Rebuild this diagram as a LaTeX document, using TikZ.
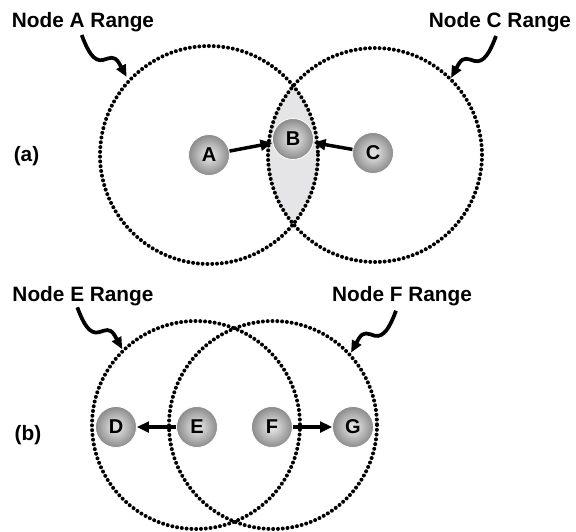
\documentclass[tikz,border=0pt]{standalone}
\usepackage{fontspec}
\setmainfont{Liberation Sans}
\usetikzlibrary{arrows.meta}

\definecolor{ballin}{RGB}{222,222,222}
\definecolor{ballmid}{RGB}{110,110,110}
\definecolor{ballout}{RGB}{62,62,62}
\definecolor{lensfill}{RGB}{229,229,232}
\pgfdeclareradialshading{ballshade}{\pgfpoint{0bp}{0bp}}{color(0bp)=(ballin); color(4bp)=(ballin); color(32bp)=(ballmid); color(50bp)=(ballout)}

\tikzset{every picture/.style={line width=0.75pt}}

\begin{document}
\begin{tikzpicture}[x=0.75pt,y=0.75pt,yscale=-1,xscale=1,
  rangecircle/.style={line width=3pt, dash pattern=on 0pt off 3.6pt, line cap=round},
  ballnode/.style={circle, draw=white, line width=0.6pt, shading=ballshade, minimum size=30.75pt, inner sep=0pt, font=\fontsize{15}{17}\selectfont\bfseries},
  rangelabel/.style={inner sep=0pt, font=\fontsize{15.6}{18}\selectfont\bfseries},
  link/.style={line width=2.6pt, -{Triangle[length=9pt,width=8pt]}},
  squig/.style={line width=2.8pt, -{Triangle[length=9pt,width=7.5pt]}}]
	\path[use as bounding box] (0,0) rectangle (576,532);

	%Shape: Lens (a)
	\begin{scope}
	\clip (209,155) circle (109);
	\fill[lensfill] (375,155) circle (107);
	\end{scope}

	%Shape: Circle [range A]
	\draw[rangecircle] (209,155) circle (109);
	%Shape: Circle [range C]
	\draw[rangecircle] (375,155) circle (107);
	%Shape: Circle [range E]
	\draw[rangecircle] (196,425) circle (104);
	%Shape: Circle [range F]
	\draw[rangecircle] (273,425) circle (104);

	% Ball Nodes
	\node[ballnode] (nA) at (209,155) {A};
	\node[ballnode] (nB) at (293,139) {B};
	\node[ballnode] (nC) at (373,153) {C};
	\node[ballnode] (nD) at (116,427) {D};
	\node[ballnode] (nE) at (197,427) {E};
	\node[ballnode] (nF) at (272,427) {F};
	\node[ballnode] (nG) at (353,427) {G};

	%Straight Lines
	\draw[link] (nA) -- (nB);
	\draw[link] (nC) -- (nB);
	\draw[link] (nE) -- (nD);
	\draw[link] (nF) -- (nG);

	% Text Node
	\node[rangelabel] (lblA) at (83,22) {Node A Range};
	% Text Node
	\node[rangelabel] (lblC) at (500,22) {Node C Range};
	% Text Node
	\node[rangelabel] (lblE) at (83,296) {Node E Range};
	% Text Node
	\node[rangelabel] (lblF) at (402,296) {Node F Range};
	% Text Node
	\node[rangelabel] (capa) at (26.5,156.5) {(a)};
	% Text Node
	\node[rangelabel] (capb) at (28,435) {(b)};

	% Squiggle ends
	\coordinate (sqA) at (81.7,35);
	\coordinate (tipA) at (126.7,77);
	\coordinate (sqC) at (496,36);
	\coordinate (tipC) at (451,78);
	\coordinate (sqE) at (77.3,307.3);
	\coordinate (tipE) at (122.3,349.3);
	\coordinate (sqF) at (396,310.7);
	\coordinate (tipF) at (351,352.7);

	%Curve Lines
	\draw[squig] (sqA) .. controls (88,52) and (94,62) .. (103,60) .. controls (110,58) and (114,55) .. (119,63) -- (tipA);
	%Curve Lines
	\draw[squig] (sqC) .. controls (489.7,53) and (483.7,63) .. (474.7,61) .. controls (467.7,59) and (463.7,56) .. (458.7,64) -- (tipC);
	%Curve Lines
	\draw[squig] (sqE) .. controls (83.6,324.3) and (89.6,334.3) .. (98.6,332.3) .. controls (105.6,330.3) and (109.6,327.3) .. (114.6,335.3) -- (tipE);
	%Curve Lines
	\draw[squig] (sqF) .. controls (389.7,327.7) and (383.7,337.7) .. (374.7,335.7) .. controls (367.7,333.7) and (363.7,330.7) .. (358.7,338.7) -- (tipF);

\end{tikzpicture}
\end{document}
